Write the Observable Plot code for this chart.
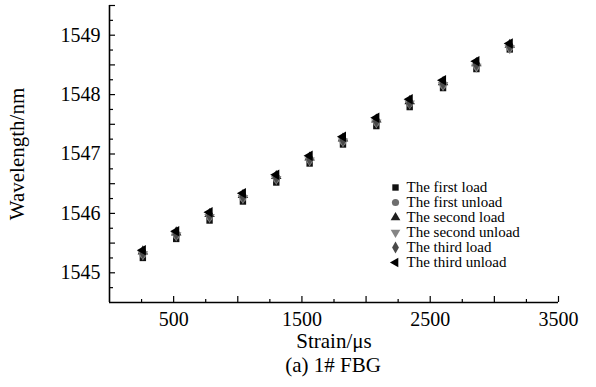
<!DOCTYPE html>
<html>
<head>
<meta charset="utf-8">
<script src="https://cdn.jsdelivr.net/npm/d3@7"></script>
<script src="https://cdn.jsdelivr.net/npm/@observablehq/plot@0.6"></script>
<style>
  html, body { margin: 0; padding: 0; background: #fff; }
  #wrap { position: relative; width: 596px; height: 387px; font-family: "Liberation Serif", serif; }
  #legend { position: absolute; left: 386px; top: 176px; }
  #caption { position: absolute; left: 0; top: 352px; width: 596px; text-align: center; font-size: 21px; line-height: 26px; padding-left: 70px; box-sizing: border-box; color: #000; font-family: "Liberation Serif", serif; }
  svg text { font-family: "Liberation Serif", serif; }
</style>
</head>
<body>
<div id="wrap">
  <div id="chart"></div>
  <div id="legend"></div>
  <div id="caption">(a) 1# FBG</div>
</div>
<script>
// ---- data ----
const strain = [260, 520, 780, 1040, 1300, 1560, 1820, 2080, 2340, 2600, 2860, 3120];
const firstLoad    = [1545.25, 1545.57, 1545.88, 1546.20, 1546.52, 1546.84, 1547.16, 1547.47, 1547.79, 1548.11, 1548.43, 1548.76];
const firstUnload  = [1545.30, 1545.62, 1545.93, 1546.25, 1546.57, 1546.89, 1547.20, 1547.52, 1547.84, 1548.15, 1548.47, 1548.79];
const secondLoad   = [1545.36, 1545.68, 1545.99, 1546.31, 1546.63, 1546.94, 1547.26, 1547.58, 1547.89, 1548.21, 1548.53, 1548.84];
const secondUnload = [1545.31, 1545.63, 1545.94, 1546.26, 1546.58, 1546.89, 1547.21, 1547.53, 1547.85, 1548.16, 1548.47, 1548.78];
const thirdLoad    = [1545.33, 1545.65, 1545.96, 1546.28, 1546.60, 1546.91, 1547.23, 1547.55, 1547.86, 1548.18, 1548.50, 1548.81];
const thirdUnload  = [1545.38, 1545.70, 1546.02, 1546.34, 1546.65, 1546.97, 1547.29, 1547.61, 1547.92, 1548.24, 1548.56, 1548.86];
const seriesNames = ["The first load", "The first unload", "The second load", "The second unload", "The third load", "The third unload"];
const seriesValues = [firstLoad, firstUnload, secondLoad, secondUnload, thirdLoad, thirdUnload];
const xTickLabels = [500, 1500, 2500, 3500];
const yTickLabels = [1545, 1546, 1547, 1548, 1549];
const xMajorTicks = [500, 1000, 1500, 2000, 2500, 3000, 3500];
const xMinorTicks = [250, 750, 1250, 1750, 2250, 2750, 3250];
const yMajorTicks = [1545, 1545.5, 1546, 1546.5, 1547, 1547.5, 1548, 1548.5, 1549, 1549.5];
const yMinorTicks = [1544.75, 1545.25, 1545.75, 1546.25, 1546.75, 1547.25, 1547.75, 1548.25, 1548.75, 1549.25];

// ---- custom symbols ----
const sqrt3 = Math.sqrt(3);
const triangleDown = {
  draw(context, size) {
    const y = -Math.sqrt(size / (sqrt3 * 3));
    context.moveTo(0, -y * 2);
    context.lineTo(-sqrt3 * y, y);
    context.lineTo(sqrt3 * y, y);
    context.closePath();
  }
};
const triangleLeft = {
  draw(context, size) {
    const y = -Math.sqrt(size / (sqrt3 * 3));
    context.moveTo(y * 2, 0);
    context.lineTo(-y, -sqrt3 * y);
    context.lineTo(-y, sqrt3 * y);
    context.closePath();
  }
};
const symbols = [d3.symbolSquare, d3.symbolCircle, d3.symbolTriangle, triangleDown, d3.symbolDiamond, triangleLeft];
const fills = ["#111111", "#6e6e6e", "#1e1e1e", "#858585", "#4a4a4a", "#000000"];
const radii = [3.6, 3.3, 3.9, 3.9, 3.6, 3.9];
const FONT = "Liberation Serif, serif";

const rows = [];
seriesValues.forEach((vals, i) => vals.forEach((v, j) => rows.push({series: seriesNames[i], strain: strain[j], wl: v})));

const W = 596, H = 352;
const ML = 109, MR = 38, MT = 5, MB = 50;
const plotH = H - MT - MB, plotW = W - ML - MR;

const dotMarks = seriesNames.map((name, i) =>
  Plot.dot(rows.filter(d => d.series === name), {
    x: "strain", y: "wl", symbol: symbols[i], fill: fills[i], r: radii[i], stroke: "none"
  })
);

const chart = Plot.plot({
  width: W, height: H,
  marginLeft: ML, marginRight: MR, marginTop: MT, marginBottom: MB,
  style: {fontFamily: FONT, background: "#fff", color: "#000"},
  x: {domain: [0, 3500]},
  y: {domain: [1544.5, 1549.5]},
  marks: [
    Plot.ruleX([0], {stroke: "#000", strokeWidth: 1.6}),
    Plot.ruleY([1544.5], {stroke: "#000", strokeWidth: 1.6}),
    Plot.tickX(xMajorTicks, {x: d => d, insetTop: plotH - 6, stroke: "#000", strokeWidth: 1.2}),
    Plot.tickX(xMinorTicks, {x: d => d, insetTop: plotH - 3, stroke: "#000", strokeWidth: 1.2}),
    Plot.tickY(yMajorTicks, {y: d => d, insetRight: plotW - 6, stroke: "#000", strokeWidth: 1.2}),
    Plot.tickY(yMinorTicks, {y: d => d, insetRight: plotW - 4, stroke: "#000", strokeWidth: 1.2}),
    Plot.axisX({ticks: xTickLabels, tickSize: 0, tickPadding: 9, fontSize: 20, fontFamily: FONT, label: null, tickFormat: d => String(d)}),
    Plot.axisY({ticks: yTickLabels, tickSize: 0, tickPadding: 9, fontSize: 20, fontFamily: FONT, label: null, tickFormat: d => String(d)}),
    Plot.text(["Strain/μs"], {frameAnchor: "bottom", lineAnchor: "middle", textAnchor: "middle", dy: 39, fontSize: 21, fontFamily: FONT, fill: "#000"}),
    Plot.text(["Wavelength/nm"], {frameAnchor: "left", lineAnchor: "middle", textAnchor: "middle", dx: -92, rotate: -90, fontSize: 21, fontFamily: FONT, fill: "#000"}),
    ...dotMarks
  ]
});
document.getElementById("chart").appendChild(chart);

// ---- legend (a small Plot with band scale) ----
const legend = Plot.plot({
  width: 180, height: 96,
  margin: 0,
  style: {fontFamily: FONT, background: "transparent", color: "#000"},
  y: {type: "band", domain: seriesNames, axis: null},
  marks: [
    ...seriesNames.map((name, i) => Plot.dot([name], {y: d => d, frameAnchor: "left", dx: 9, symbol: symbols[i], fill: fills[i], r: 3.6, stroke: "none"})),
    Plot.text(seriesNames, {y: d => d, text: d => d, frameAnchor: "left", dx: 20, textAnchor: "start", lineAnchor: "middle", fontSize: 15, fontFamily: FONT, fill: "#000"})
  ]
});
document.getElementById("legend").appendChild(legend);
</script>
</body>
</html>
